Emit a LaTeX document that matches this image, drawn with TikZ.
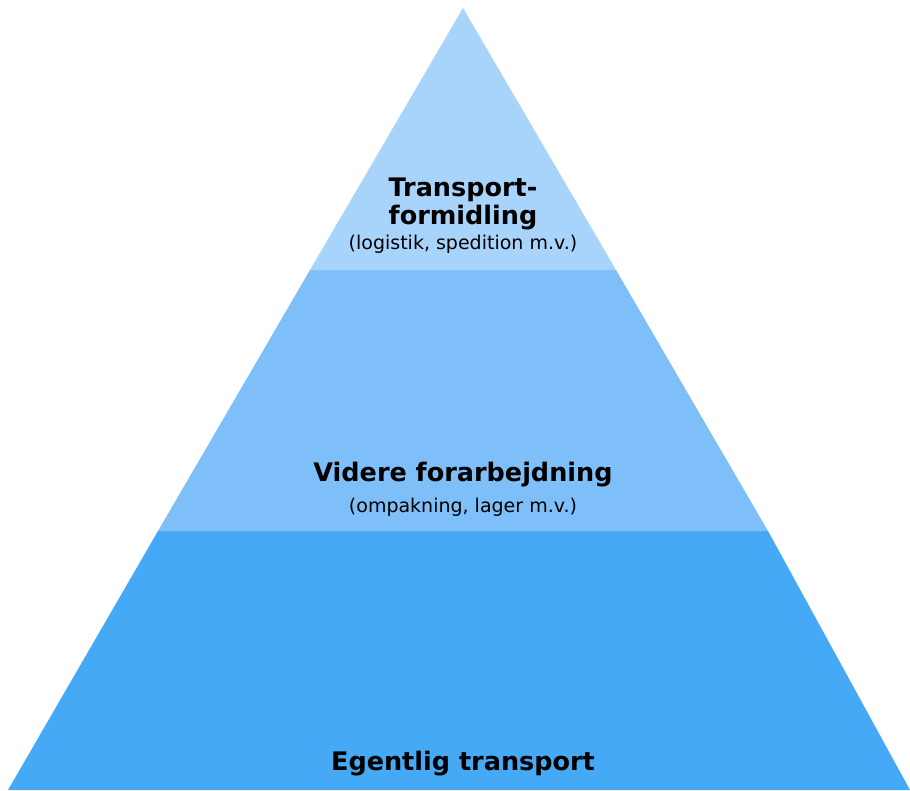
\documentclass[tikz,border=0pt]{standalone}
\usepackage{fontspec}
\setmainfont{DejaVu Sans}
\usepackage{tikz}
\usetikzlibrary{positioning}

\definecolor{tiertop}{HTML}{A8D3FA}
\definecolor{tiermid}{HTML}{7EBFF9}
\definecolor{tierbase}{HTML}{45A9F5}

\begin{document}
\begin{tikzpicture}[x=1pt, y=-1pt, title/.style={align=center, font=\bfseries\fontsize{25.5}{28}\selectfont, inner sep=0pt}, subtitle/.style={align=center, font=\fontsize{19}{22}\selectfont, inner sep=0pt}, layer/.style={draw=none}]
    
    \useasboundingbox[fill=white] (0,0) rectangle (910,790);
    
    %Layers
    \fill[layer, tierbase] (158,531) -- (768,531) -- (910,790) -- (8,790) -- cycle;
    \fill[layer, tiermid] (310,270) -- (616,270) -- (768,531) -- (158,531) -- cycle;
    \fill[layer, tiertop] (463,8) -- (616,270) -- (310,270) -- cycle;
    
    %Nodes
    \node[title](formidling) at (463,204){Transport-\\formidling};
    \node[subtitle](formidlingsub)[below=5pt of formidling]{(logistik, spedition m.v.)};
    \node[title](videre) at (463,475){Videre forarbejdning};
    \node[subtitle](vprecise)[below=10pt of videre]{(ompakning, lager m.v.)};
    \node[title](egentlig) at (463,764){Egentlig transport};
    
\end{tikzpicture}
\end{document}
